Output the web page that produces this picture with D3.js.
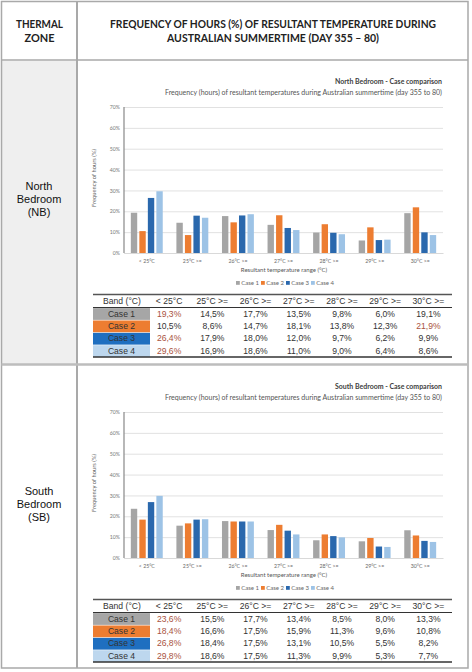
<!DOCTYPE html>
<html><head><meta charset="utf-8">
<script src="https://cdn.jsdelivr.net/npm/d3@7"></script>
<style>body{margin:0;background:#fff;}svg{display:block;}</style>
</head><body>
<script>
const categories = ["< 25°C","25°C >=","26°C >=","27°C >=","28°C >=","29°C >=","30°C >="];
const cases = ["Case 1","Case 2","Case 3","Case 4"];
const northValues = [
  [19.3,14.5,17.7,13.5,9.8,6.0,19.1],
  [10.5,8.6,14.7,18.1,13.8,12.3,21.9],
  [26.4,17.9,18.0,12.0,9.7,6.2,9.9],
  [29.6,16.9,18.6,11.0,9.0,6.4,8.6]];
const southValues = [
  [23.6,15.5,17.7,13.4,8.5,8.0,13.3],
  [18.4,16.6,17.5,15.9,11.3,9.6,10.8],
  [26.8,18.4,17.5,13.1,10.5,5.5,8.2],
  [29.8,18.6,17.5,11.3,9.9,5.3,7.7]];
const yTicks = [0,10,20,30,40,50,60,70];
const zoneNames = [["North","Bedroom","(NB)"],["South","Bedroom","(SB)"]];
const chartTitles = ["North Bedroom - Case comparison","South Bedroom - Case comparison"];
const chartSubtitle = "Frequency (hours) of resultant temperatures during Australian summertime (day 355 to 80)";
const headerLeft = ["THERMAL","ZONE"];
const headerRight = ["FREQUENCY OF HOURS (%) OF RESULTANT TEMPERATURE DURING","AUSTRALIAN SUMMERTIME (DAY 355 – 80)"];
const bandHeader = "Band (°C)";
const yTitle = "Frequency of hours (%)";
const xTitle = "Resultant temperature range (°C)";

const barColors = ["#a5a5a5","#ed7d31","#2a68ad","#9dc3e6"];
const cellColors = ["#a6a6a6","#ed7d31","#1f6fc0","#bdd7ee"];

const W = 472, H = 672;
const svg = d3.select("body").append("svg").attr("width",W).attr("height",H);

// grid frame
svg.append("rect").attr("x",2).attr("y",61).attr("width",75).attr("height",303).attr("fill","#efefef");
const frame = svg.append("g").attr("stroke","#a9a9a9").attr("fill","none");
frame.append("rect").attr("x",1.5).attr("y",1.5).attr("width",466.5).attr("height",666.5).attr("stroke-width",1.5);
frame.append("line").attr("x1",77).attr("x2",77).attr("y1",1.5).attr("y2",668).attr("stroke-width",2);
frame.append("line").attr("x1",1.5).attr("x2",468).attr("y1",60).attr("y2",60).attr("stroke-width",1.5);
frame.append("line").attr("x1",1.5).attr("x2",468).attr("y1",364.5).attr("y2",364.5).attr("stroke-width",2.5).attr("stroke","#bdbdbd");

// header
const hdrFont = "Lato, 'Open Sans', sans-serif";
const hlLen=[47,30];
headerLeft.forEach((t,i)=>{
  svg.append("text").attr("x",39.5).attr("y",28+i*14).attr("text-anchor","middle")
    .attr("font-family",hdrFont).attr("font-weight","bold").attr("font-size",11).attr("fill","#222")
    .attr("textLength",hlLen[i]).attr("lengthAdjust","spacingAndGlyphs").text(t);
});
const hrLen=[326,212];
headerRight.forEach((t,i)=>{
  svg.append("text").attr("x",273).attr("y",28+i*14).attr("text-anchor","middle")
    .attr("font-family",hdrFont).attr("font-weight","bold").attr("font-size",11).attr("fill","#222")
    .attr("textLength",hrLen[i]).attr("lengthAdjust","spacingAndGlyphs").text(t);
});

const fmt = v => d3.format(".1f")(v).replace(".",",")+"%";

function panel(off, values, zi){
  const g = svg.append("g").attr("transform",`translate(0,${off})`);
  zoneNames[zi].forEach((t,i)=>{
    g.append("text").attr("x",39).attr("y",203+(i-1)*13).attr("text-anchor","middle")
      .attr("font-family","'Liberation Sans', Arial, sans-serif").attr("font-size",11).attr("fill","#111").text(t);
  });
  const cf = "Lato, 'Open Sans', sans-serif";
  g.append("text").attr("x",442).attr("y",84).attr("text-anchor","end").attr("font-family",cf)
    .attr("font-weight","bold").attr("font-size",7).attr("fill","#404040")
    .attr("textLength",107).attr("lengthAdjust","spacingAndGlyphs").text(chartTitles[zi]);
  g.append("text").attr("x",442).attr("y",95).attr("text-anchor","end").attr("font-family",cf)
    .attr("font-size",7).attr("fill","#555")
    .attr("textLength",277).attr("lengthAdjust","spacingAndGlyphs").text(chartSubtitle);

  const y = d3.scaleLinear().domain([0,70]).range([253,107]);
  const x = d3.scaleBand().domain(categories).range([124,443]).paddingInner(0.3).paddingOuter(0.15);
  const xs = d3.scaleBand().domain(cases).range([0,x.bandwidth()]).paddingInner(0.25);

  const ya = d3.axisLeft(y).tickValues(yTicks).tickFormat(d=>d+"%").tickSize(-(443-124)).tickPadding(4);
  const yg = g.append("g").attr("transform","translate(124,0)").call(ya);
  yg.select(".domain").remove();
  yg.selectAll(".tick line").attr("stroke","#d9d9d9").attr("stroke-width",0.8);
  yg.selectAll(".tick text").attr("font-family",cf).attr("font-size",5.2).attr("fill","#777");
  g.append("line").attr("x1",124).attr("x2",124).attr("y1",y(70)).attr("y2",y(0)).attr("stroke","#888").attr("stroke-width",1.2);

  categories.forEach((c,ci)=>{
    cases.forEach((k,ki)=>{
      const v = values[ki][ci];
      g.append("rect").attr("x",x(c)+xs(k)).attr("y",y(v)).attr("width",xs.bandwidth())
        .attr("height",y(0)-y(v)).attr("fill",barColors[ki]);
    });
  });

  const xa = d3.axisBottom(x).tickSize(0).tickPadding(6);
  const xg = g.append("g").attr("transform",`translate(0,${y(0)})`).call(xa);
  xg.select(".domain").attr("stroke","#d9d9d9");
  xg.selectAll(".tick text").attr("font-family",cf).attr("font-size",5.2).attr("fill","#666");

  g.append("text").attr("transform",`translate(96,178) rotate(-90)`).attr("text-anchor","middle")
    .attr("font-family",cf).attr("font-size",5.8).attr("fill","#666").text(yTitle);
  g.append("text").attr("x",284).attr("y",272).attr("text-anchor","middle")
    .attr("font-family",cf).attr("font-size",6).attr("fill","#555").text(xTitle);

  const lx = d3.scalePoint().domain(cases).range([236,311]);
  cases.forEach((k,ki)=>{
    g.append("rect").attr("x",lx(k)).attr("y",281).attr("width",3.8).attr("height",3.8).attr("fill",barColors[ki]);
    g.append("text").attr("x",lx(k)+5.2).attr("y",285).attr("font-family",cf).attr("font-size",6)
      .attr("fill","#666").text(k);
  });

  const tf = "'Liberation Sans', Arial, sans-serif";
  const tx = d3.scaleBand().domain(categories).range([147.5,450]);
  const rowY = d3.scaleBand().domain(cases).range([307.5,357]);
  g.append("line").attr("x1",93).attr("x2",452).attr("y1",294.5).attr("y2",294.5).attr("stroke","#555").attr("stroke-width",1.3);
  g.append("line").attr("x1",93).attr("x2",452).attr("y1",307.5).attr("y2",307.5).attr("stroke","#333").attr("stroke-width",1.2);
  g.append("text").attr("x",122).attr("y",304).attr("text-anchor","middle").attr("font-family",tf)
    .attr("font-size",8.6).attr("fill","#333").text(bandHeader);
  categories.forEach(c=>{
    g.append("text").attr("x",tx(c)+tx.bandwidth()/2).attr("y",304).attr("text-anchor","middle")
      .attr("font-family",tf).attr("font-size",8.6).attr("fill","#333").text(c);
  });
  cases.forEach((k,ki)=>{
    const ry = rowY(k);
    g.append("rect").attr("x",93).attr("y",ry+0.6).attr("width",57).attr("height",rowY.bandwidth()-0.6).attr("fill",cellColors[ki]);
    g.append("text").attr("x",121.5).attr("y",ry+rowY.bandwidth()/2+3).attr("text-anchor","middle")
      .attr("font-family",tf).attr("font-size",8.6).attr("fill","#333").text(k);
    const mx = d3.max(values[ki]);
    categories.forEach((c,ci)=>{
      const v = values[ki][ci];
      g.append("text").attr("x",tx(c)+tx.bandwidth()/2).attr("y",ry+rowY.bandwidth()/2+3).attr("text-anchor","middle")
        .attr("font-family",tf).attr("font-size",8.6).attr("fill", v===mx ? "#a9533e" : "#333").text(fmt(v));
    });
  });
  g.append("line").attr("x1",93).attr("x2",452).attr("y1",357).attr("y2",357).attr("stroke","#333").attr("stroke-width",1.3);
}
panel(0, northValues, 0);
panel(305, southValues, 1);
</script>
</body></html>
